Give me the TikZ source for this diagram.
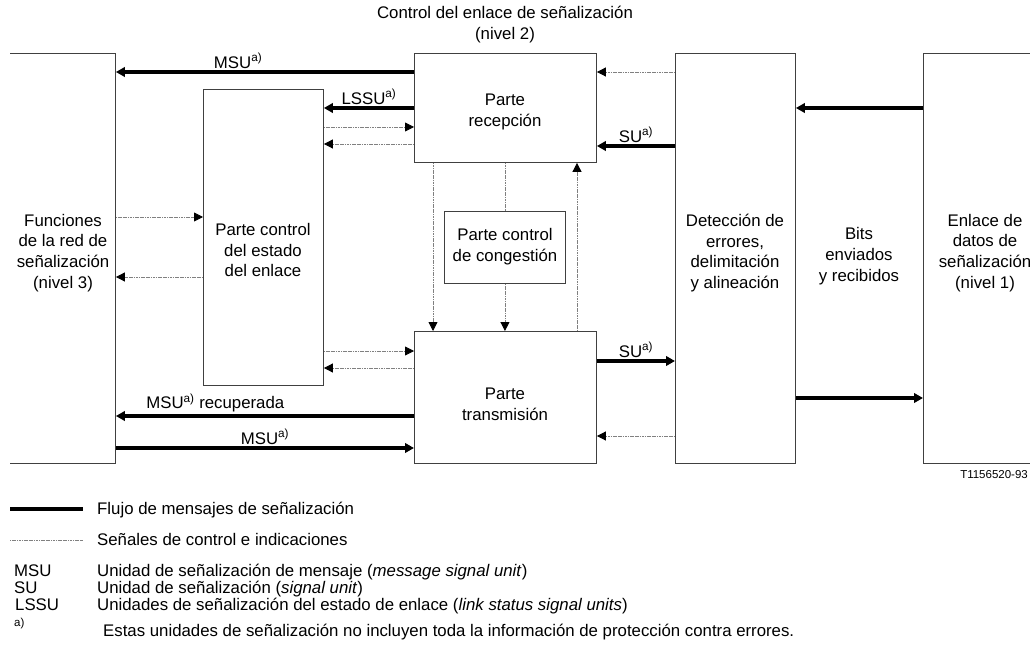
\documentclass[tikz,border=0pt]{standalone}
\usepackage{fontspec}
\setmainfont{Liberation Sans}
\usetikzlibrary{arrows.meta}

\newcommand{\supa}{\textsuperscript{a)}}

\tikzset{
    frame/.style={draw=black!75, line width=0.9pt},
    blk/.style={frame, rectangle, inner sep=0pt, anchor=north west},
    txt/.style={align=center, inner sep=0pt},
    lbl/.style={anchor=west, inner sep=0pt, text height=12pt, text depth=3.5pt},
    lab/.style={above, inner sep=2pt},
    flow/.style={line width=3.2pt, -{Triangle[length=9pt,width=9.5pt]}},
    ctrlline/.style={draw=gray, line width=0.8pt, dash pattern=on 1.2pt off 0.5pt},
    ctrl/.style={ctrlline, -{Triangle[length=9pt,width=9pt,color=black]}},
}

\begin{document}
\begin{tikzpicture}[x=1pt, y=-1pt, every node/.append style={font=\fontsize{16.8}{20.7}\selectfont}]
    \useasboundingbox (0,0) rectangle (1030,660);

    % blocks
    \node[blk, draw=none, minimum width=105pt, minimum height=410pt] (n3) at (10,53) {};
    \draw[frame] (n3.north west) -- (n3.north east) -- (n3.south east) -- (n3.south west);
    \node[blk, minimum width=120pt, minimum height=296pt] (ctl) at (203,89) {};
    \node[blk, minimum width=182pt, minimum height=109pt] (recv) at (414,53) {};
    \node[blk, minimum width=121pt, minimum height=72pt] (cong) at (444,211) {};
    \node[blk, minimum width=182pt, minimum height=132pt] (trans) at (414,331) {};
    \node[blk, minimum width=120pt, minimum height=410pt] (det) at (675,53) {};
    \node[blk, draw=none, minimum width=120pt, minimum height=410pt] (n1) at (923,53) {};
    \draw[frame] (n1.north east) -- (n1.north west) -- (n1.south west) -- (n1.south east);

    % texts
    \node[txt] (title) at (505,24.5) {Control del enlace de señalización\\(nivel 2)};
    \node[txt] (n3txt) at (63,253) {Funciones\\de la red de\\señalización\\(nivel 3)};
    \node[txt] (ctltxt) at (263,250) {Parte control\\del estado\\del enlace};
    \node[txt] (recvtxt) at (505,112) {Parte\\recepción};
    \node[txt] (congtxt) at (505,247) {Parte control\\de congestión};
    \node[txt] (transtxt) at (505,404) {Parte\\transmisión};
    \node[txt] (dettxt) at (735,253) {Detección de\\errores,\\delimitación\\y alineación};
    \node[txt] (bits) at (859,256) {Bits\\enviados\\y recibidos};
    \node[txt] (n1txt) at (985,253) {Enlace de\\datos de\\señalización\\(nivel 1)};

    % message flow
    \draw[flow] (recv.west |- 0,72) -- node[lab, pos=0.59] {MSU\supa} (n3.east |- 0,72);
    \draw[flow] (recv.west |- 0,108) -- node[lab] {LSSU\supa} (ctl.east |- 0,108);
    \draw[flow] (det.west |- 0,146) -- node[lab] {SU\supa} (recv.east |- 0,146);
    \draw[flow] (n1.west |- 0,108) -- (det.east |- 0,108);
    \draw[flow] (trans.east |- 0,361) -- node[lab] {SU\supa} (det.west |- 0,361);
    \draw[flow] (det.east |- 0,398) -- (n1.west |- 0,398);
    \draw[flow] (trans.west |- 0,416) -- node[lab, pos=0.91, anchor=south west] {MSU\supa{} recuperada} (n3.east |- 0,416);
    \draw[flow] (n3.east |- 0,448) -- node[lab] {MSU\supa} (trans.west |- 0,448);

    % control and indications
    \draw[ctrl] (ctl.east |- 0,127) -- (recv.west |- 0,127);
    \draw[ctrl] (recv.west |- 0,144) -- (ctl.east |- 0,144);
    \draw[ctrl] (n3.east |- 0,217) -- (ctl.west |- 0,217);
    \draw[ctrl] (ctl.west |- 0,277) -- (n3.east |- 0,277);
    \draw[ctrl] (ctl.east |- 0,351) -- (trans.west |- 0,351);
    \draw[ctrl] (trans.west |- 0,368) -- (ctl.east |- 0,368);
    \draw[ctrl] (det.west |- 0,72) -- (recv.east |- 0,72);
    \draw[ctrl] (det.west |- 0,436) -- (trans.east |- 0,436);
    \draw[ctrl] (recv.south -| 433,0) -- (trans.north -| 433,0);
    \draw[ctrlline] (recv.south -| cong.north) -- (cong.north);
    \draw[ctrl] (cong.south) -- (trans.north -| cong.south);
    \draw[ctrl] (trans.north -| 577,0) -- (recv.south -| 577,0);

    \node[anchor=east, inner sep=0pt, font=\fontsize{11.5}{14}\selectfont] (fig) at (1028,475) {T1156520-93};

    % legend
    \coordinate (lf0) at (10,509);
    \coordinate (lf1) at (83,509);
    \draw[line width=3.2pt] (lf0) -- (lf1);
    \node[lbl] (lflow) at (97,510) {Flujo de mensajes de señalización};
    \coordinate (lc0) at (10,540);
    \coordinate (lc1) at (83,540);
    \draw[ctrlline] (lc0) -- (lc1);
    \node[lbl] (lctrl) at (97,541) {Señales de control e indicaciones};
    \node[lbl] (amsu) at (14,572) {MSU};
    \node[lbl] (dmsu) at (97,572) {Unidad de señalización de mensaje (\textit{message signal unit})};
    \node[lbl] (asu) at (14,589) {SU};
    \node[lbl] (dsu) at (97,589) {Unidad de señalización (\textit{signal unit})};
    \node[lbl] (alssu) at (15,606) {LSSU};
    \node[lbl] (dlssu) at (97,606) {Unidades de señalización del estado de enlace (\textit{link status signal units})};
    \node[anchor=west, inner sep=0pt, font=\fontsize{11.5}{14}\selectfont] (fna) at (14,624) {a)};
    \node[lbl] (fntxt) at (103,632) {Estas unidades de señalización no incluyen toda la información de protección contra errores.};
\end{tikzpicture}
\end{document}
